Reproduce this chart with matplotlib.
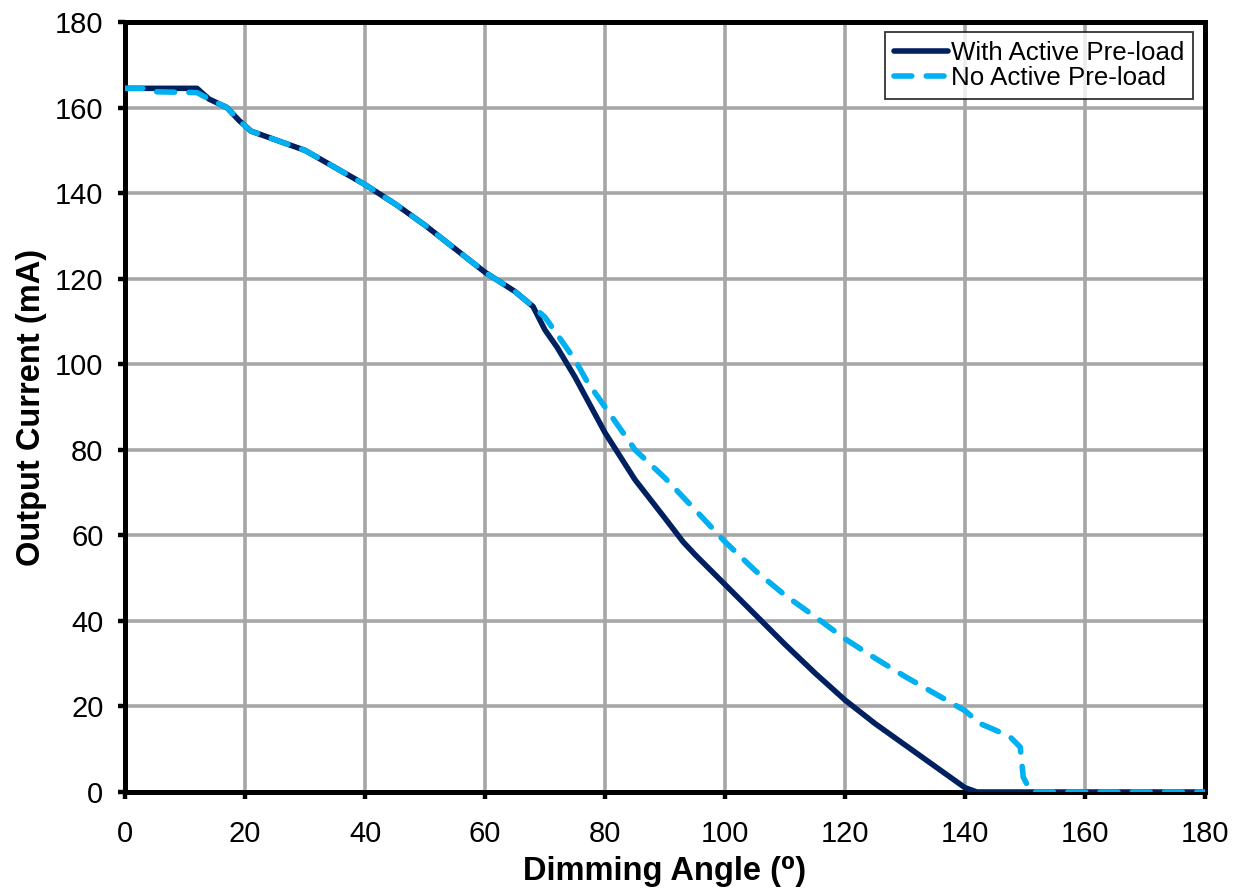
import matplotlib
matplotlib.use("Agg")
import matplotlib.pyplot as plt

plt.rcParams['font.family'] = ['Liberation Sans', 'DejaVu Sans']

# With Active Pre-load
angle_with = [0, 12, 14, 17, 19, 21, 25, 30, 35, 40, 45, 50, 55, 60, 65, 68,
              70, 72, 75, 80, 85, 90, 93, 95, 100, 105, 110, 115, 120, 125,
              130, 135, 140, 142, 180]
current_with = [164.5, 164.5, 162, 160, 157, 154.5, 152.5, 150, 146, 142, 137.5,
                132.5, 127, 121.5, 117, 113.5, 108, 104, 97, 84, 73, 64, 58.5,
                55.5, 48.5, 41.5, 34.5, 27.8, 21.5, 16, 11, 6, 1, 0, 0]

# No Active Pre-load
angle_no = [0, 3, 5, 12, 14, 17, 19, 21, 25, 30, 35, 40, 45, 50, 55, 60, 65, 68,
            70, 72, 75, 77, 80, 85, 90, 95, 100, 105, 110, 115, 120, 125, 130,
            135, 140, 142.5, 145, 147.5, 149.2, 149.7, 150.8, 151, 180]
current_no = [164.5, 164.5, 163.7, 163.5, 162, 160, 157, 154.5, 152.5, 150, 146,
              142, 137.5, 132.5, 127, 121.5, 117, 113.5, 111, 107, 101, 96, 90,
              80, 73.4, 66, 58.5, 51.8, 46, 41, 35.8, 31.3, 27, 23, 19, 16,
              14.5, 12.9, 10.5, 3.5, 0.5, 0, 0]

x_ticks = list(range(0, 181, 20))
y_ticks = list(range(0, 181, 20))

fig = plt.figure(figsize=(12.45, 8.92), dpi=100)
ax = fig.add_axes([0.1004, 0.1121, 0.8675, 0.8632])

ax.plot(angle_with, current_with, color='#002060', lw=4,
        solid_capstyle='round', solid_joinstyle='round',
        label='With Active Pre-load', zorder=3)
ax.plot(angle_no, current_no, color='#00B0F0', lw=4,
        dashes=(3.2, 2.6), dash_capstyle='round', dash_joinstyle='round',
        label='No Active Pre-load', zorder=4)

ax.set_xlim(0, 180)
ax.set_ylim(0, 180)
ax.set_xticks(x_ticks)
ax.set_yticks(y_ticks)
ax.grid(True, color='#A6A6A6', lw=2.6)
ax.set_axisbelow(True)
for s in ax.spines.values():
    s.set_linewidth(3.6)
    s.set_color('black')
ax.tick_params(direction='out', length=5, width=3.2, labelsize=21,
               colors='black')
ax.tick_params(axis='x', pad=15)
ax.tick_params(axis='y', pad=10.5)

ax.set_xlabel('Dimming Angle (⁰)', fontsize=23.5, fontweight='bold', labelpad=6)
ax.set_ylabel('Output Current (mA)', fontsize=23.5, fontweight='bold', labelpad=6)

leg = ax.legend(loc='upper right', bbox_to_anchor=(0.989, 0.987), fontsize=18.6,
                frameon=True, fancybox=False, edgecolor='black',
                handlelength=2.1, handletextpad=0.1, borderpad=0.35,
                labelspacing=0.05, borderaxespad=0)
leg.get_frame().set_linewidth(1.3)

fig.savefig('out.png', dpi=100)
